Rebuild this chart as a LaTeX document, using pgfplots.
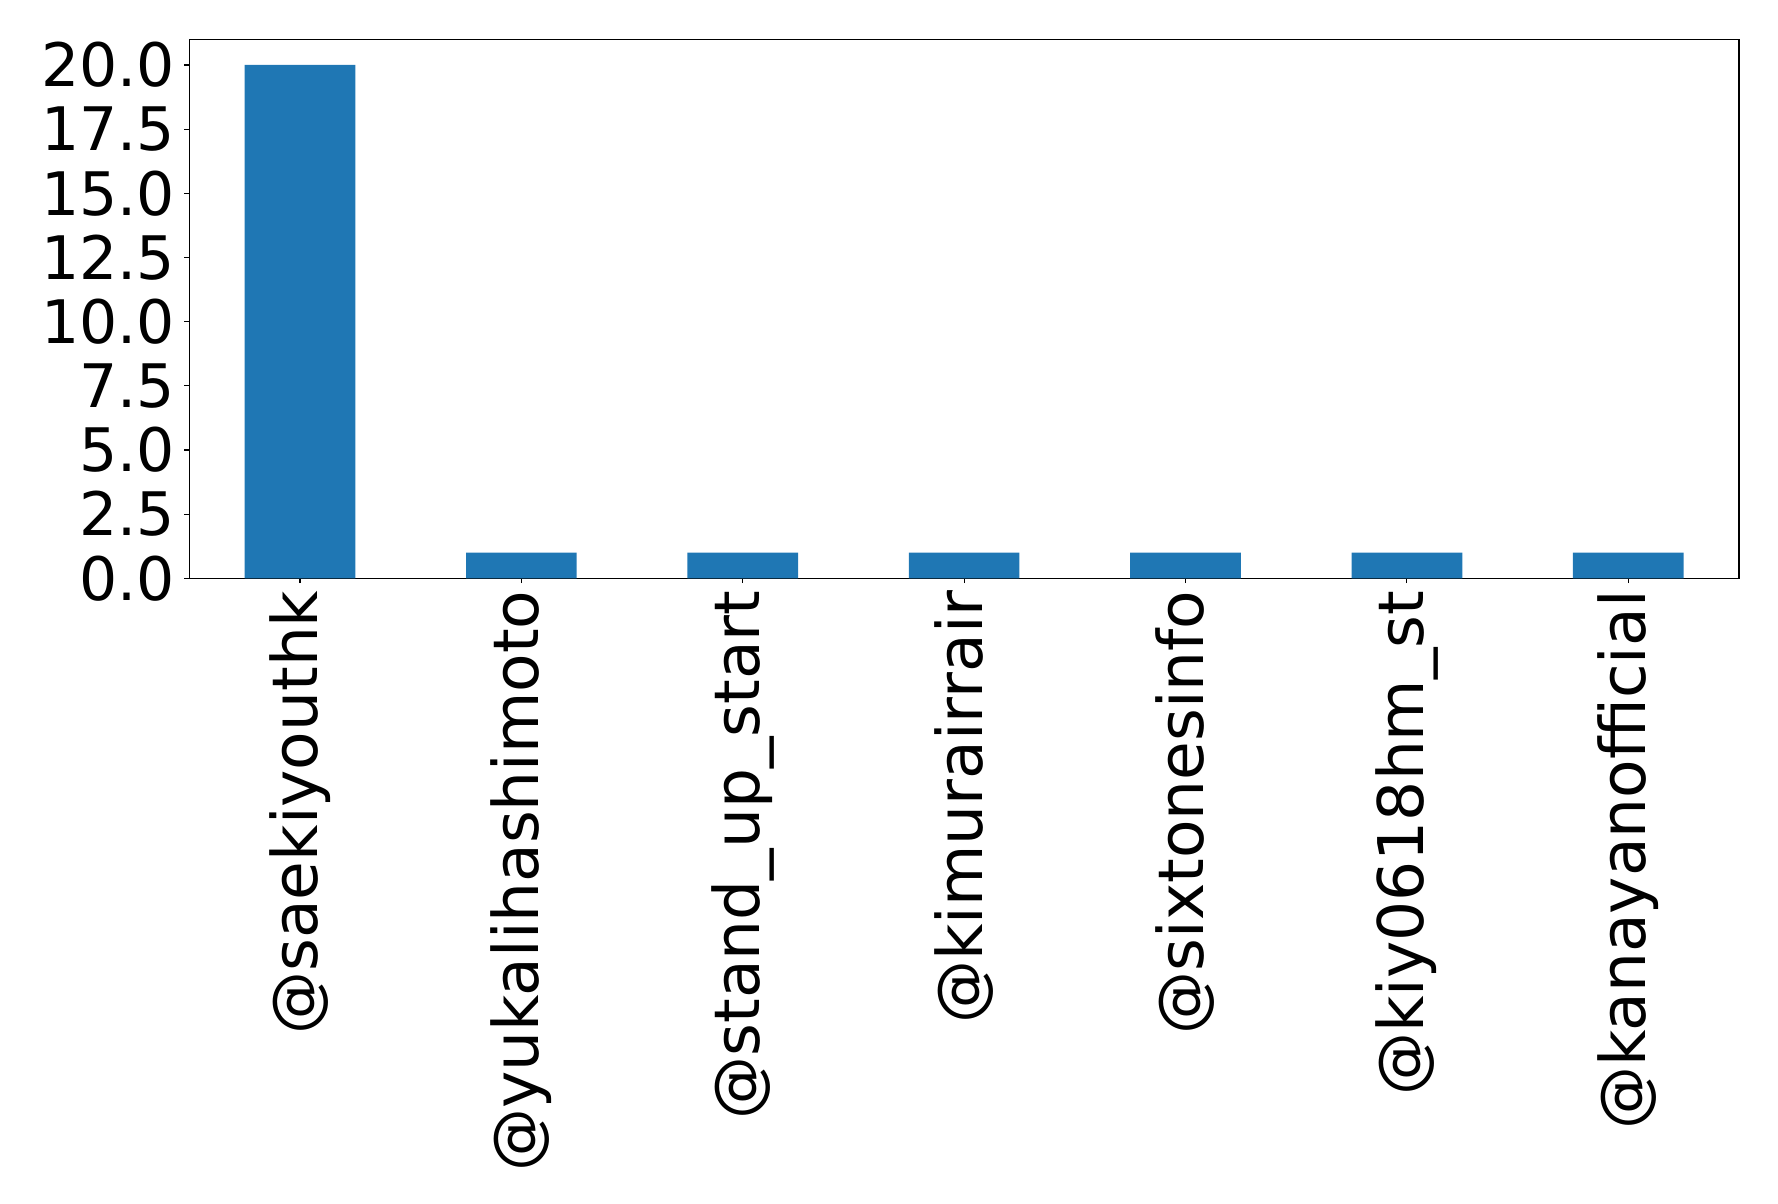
\documentclass[border=0pt]{standalone}
\usepackage{pgfplots}
\pgfplotsset{compat=1.18}
\usepackage{fontspec}
\setmainfont{DejaVu Sans}
\definecolor{barblue}{HTML}{1F77B4}
\begin{document}
\begin{tikzpicture}
\useasboundingbox (-94.65pt,-312.85pt) rectangle (794.35pt,289.15pt);
\begin{axis}[
  at={(0,0)}, anchor=south west,
  scale only axis,
  width=774.85pt, height=269.5pt,
  xmin=-0.5, xmax=6.5, ymin=0, ymax=21,
  xtick={0,1,2,3,4,5,6},
  xticklabels={@saekiyouthk,@yukalihashimoto,@stand\_up\_start,@kimurairrair,@sixtonesinfo,@kiy0618hm\_st,@kanayanofficial},
  ytick={0,2.5,5,7.5,10,12.5,15,17.5,20},
  y tick label style={/pgf/number format/fixed, /pgf/number format/fixed zerofill, /pgf/number format/precision=1},
  /pgf/number format/assume math mode=true,
  tick align=outside,
  xtick pos=bottom, ytick pos=left,
  major tick length=2.45pt,
  tick style={black, line width=0.55pt},
  axis line style={black, line width=0.55pt},
  ticklabel style={inner sep=0pt},
  yticklabel style={font=\fontsize{30}{36}\selectfont, anchor=east, xshift=-4.5pt},
  xticklabel shift=3.5pt,
  xticklabel style={font=\fontsize{31.5}{38}\selectfont, rotate=90, anchor=east},
  ybar, bar width=0.5,
]
\addplot[fill=barblue, draw=none] coordinates {(0,20) (1,1) (2,1) (3,1) (4,1) (5,1) (6,1)};
\end{axis}
\end{tikzpicture}
\end{document}
